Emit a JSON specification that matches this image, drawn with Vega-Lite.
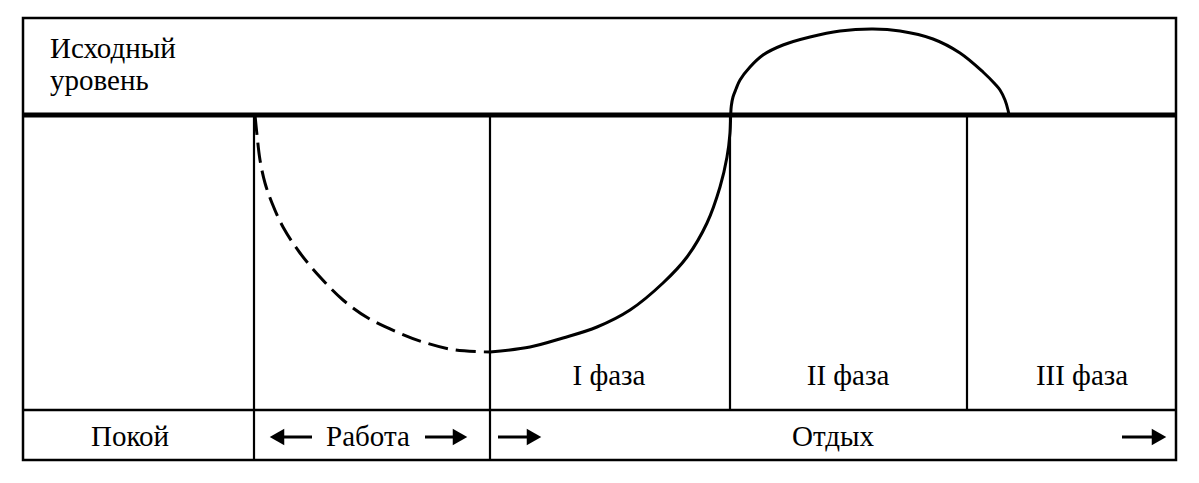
{
  "$schema": "https://vega.github.io/schema/vega-lite/v6.json",
  "width": 1199,
  "height": 483,
  "padding": 0,
  "autosize": {"type": "fit", "contains": "padding"},
  "background": "white",
  "config": {"view": {"stroke": null}},
  "datasets": {
    "box": [{"x": 23, "x2": 1176, "y": 97, "y2": -345}],
    "hrules": [
      {"x": 23, "x2": 1176, "y": 0, "w": "thick"},
      {"x": 23, "x2": 1176, "y": -295, "w": "thin"}
    ],
    "vrules": [
      {"x": 254, "y": 0, "y2": -345},
      {"x": 490, "y": 0, "y2": -345},
      {"x": 730, "y": 0, "y2": -295},
      {"x": 967, "y": 0, "y2": -295}
    ],
    "work": [
      {"x": 255, "y": 0},
      {"x": 257, "y": -20},
      {"x": 260, "y": -45},
      {"x": 265, "y": -68},
      {"x": 272, "y": -88},
      {"x": 283, "y": -112},
      {"x": 300, "y": -138},
      {"x": 320, "y": -162},
      {"x": 343, "y": -185},
      {"x": 368, "y": -203},
      {"x": 397, "y": -217},
      {"x": 423, "y": -227},
      {"x": 455, "y": -235},
      {"x": 490, "y": -237}
    ],
    "rest": [
      {"x": 490, "y": -237},
      {"x": 530, "y": -232},
      {"x": 563, "y": -223},
      {"x": 597, "y": -212},
      {"x": 630, "y": -195},
      {"x": 663, "y": -168},
      {"x": 687, "y": -142},
      {"x": 707, "y": -108},
      {"x": 720, "y": -72},
      {"x": 727, "y": -42},
      {"x": 730, "y": -18},
      {"x": 730.7, "y": 0},
      {"x": 731.3, "y": 9},
      {"x": 733, "y": 18},
      {"x": 736, "y": 26},
      {"x": 740, "y": 35},
      {"x": 750, "y": 48},
      {"x": 763, "y": 60},
      {"x": 783, "y": 70},
      {"x": 810, "y": 78},
      {"x": 840, "y": 84},
      {"x": 873, "y": 86},
      {"x": 900, "y": 84},
      {"x": 933, "y": 76},
      {"x": 960, "y": 62},
      {"x": 983, "y": 43},
      {"x": 995, "y": 31},
      {"x": 1000, "y": 25},
      {"x": 1005, "y": 15},
      {"x": 1008, "y": 5},
      {"x": 1009, "y": 0}
    ],
    "leftLabels": [
      {"label": "Исходный", "x": 50, "y": 57},
      {"label": "уровень", "x": 50, "y": 25}
    ],
    "labels": [
      {"label": "I фаза", "x": 609, "y": -270},
      {"label": "II фаза", "x": 848, "y": -270},
      {"label": "III фаза", "x": 1082, "y": -270},
      {"label": "Покой", "x": 130, "y": -331},
      {"label": "Работа", "x": 368, "y": -331},
      {"label": "Отдых", "x": 833, "y": -331}
    ],
    "shafts": [
      {"x": 278, "x2": 312, "y": -322},
      {"x": 425, "x2": 456, "y": -322},
      {"x": 498, "x2": 530, "y": -322},
      {"x": 1122, "x2": 1155, "y": -322}
    ],
    "heads": [
      {"x": 277, "y": -322, "shape": "triangle-left"},
      {"x": 460, "y": -322, "shape": "triangle-right"},
      {"x": 534, "y": -322, "shape": "triangle-right"},
      {"x": 1159, "y": -322, "shape": "triangle-right"}
    ]
  },
  "encoding": {
    "x": {"field": "x", "type": "quantitative", "scale": {"domain": [0, 1199], "nice": false, "zero": false}, "axis": null},
    "y": {"field": "y", "type": "quantitative", "scale": {"domain": [-368, 115], "nice": false, "zero": false}, "axis": null}
  },
  "layer": [
    {
      "data": {"name": "box"},
      "mark": {"type": "rect", "fill": null, "fillOpacity": 0, "stroke": "black", "strokeWidth": 2.5},
      "encoding": {"x2": {"field": "x2"}, "y2": {"field": "y2"}}
    },
    {
      "data": {"name": "hrules"},
      "mark": {"type": "rule", "color": "black"},
      "encoding": {
        "x2": {"field": "x2"},
        "strokeWidth": {"field": "w", "type": "nominal", "scale": {"domain": ["thick", "thin"], "range": [5, 2.5]}, "legend": null}
      }
    },
    {
      "data": {"name": "vrules"},
      "mark": {"type": "rule", "color": "black", "strokeWidth": 2.2},
      "encoding": {"y2": {"field": "y2"}}
    },
    {
      "data": {"name": "work"},
      "mark": {"type": "line", "color": "black", "strokeWidth": 3, "interpolate": "catmull-rom", "strokeDash": [20, 8], "strokeCap": "butt"},
      "encoding": {"order": {"field": "x", "type": "quantitative"}}
    },
    {
      "data": {"name": "rest"},
      "mark": {"type": "line", "color": "black", "strokeWidth": 3, "interpolate": "catmull-rom"},
      "encoding": {"order": {"field": "x", "type": "quantitative"}}
    },
    {
      "data": {"name": "shafts"},
      "mark": {"type": "rule", "color": "black", "strokeWidth": 3},
      "encoding": {"x2": {"field": "x2"}}
    },
    {
      "data": {"name": "heads"},
      "mark": {"type": "point", "filled": true, "color": "black", "opacity": 1, "size": 280},
      "encoding": {"shape": {"field": "shape", "type": "nominal", "scale": null}}
    },
    {
      "data": {"name": "leftLabels"},
      "mark": {"type": "text", "font": "Liberation Serif", "fontSize": 29, "color": "black", "baseline": "alphabetic", "align": "left"},
      "encoding": {"text": {"field": "label"}}
    },
    {
      "data": {"name": "labels"},
      "mark": {"type": "text", "font": "Liberation Serif", "fontSize": 29, "color": "black", "baseline": "alphabetic", "align": "center"},
      "encoding": {"text": {"field": "label"}}
    }
  ]
}
